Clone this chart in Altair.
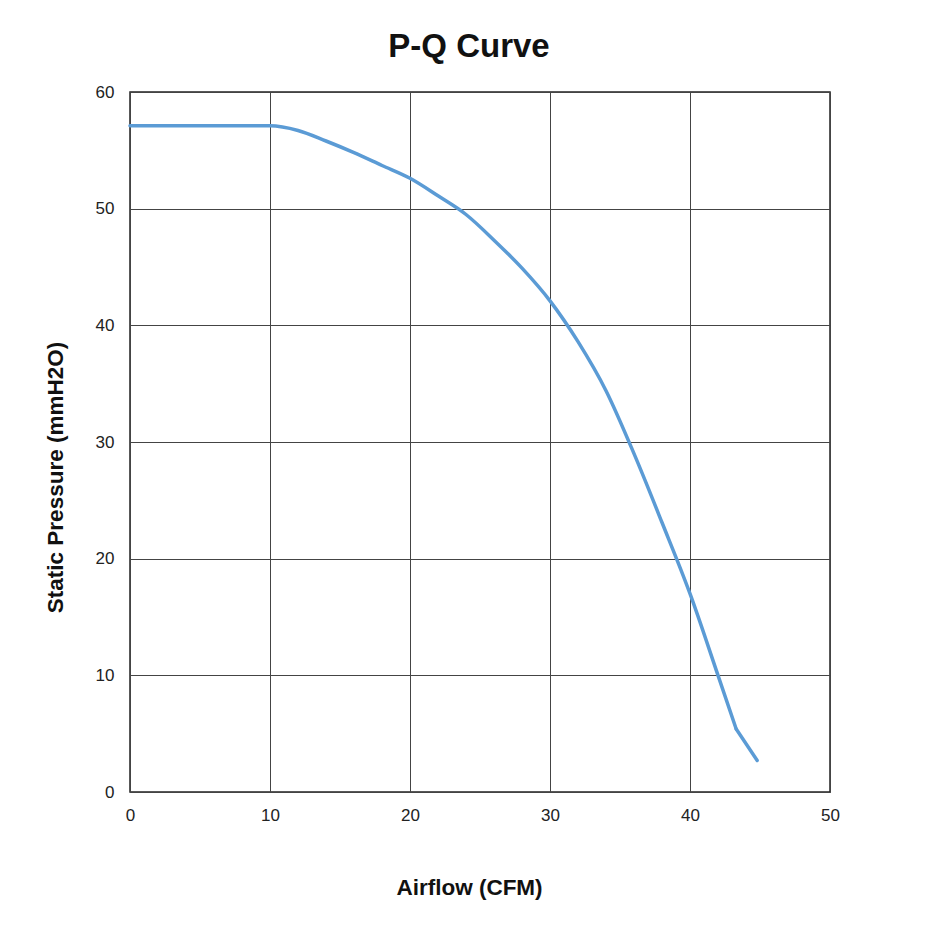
import pandas as pd
import altair as alt

# airflow (CFM) and static pressure (mmH2O)
airflow = [0, 10, 12, 14, 16, 18, 20, 22, 24, 26, 28, 30, 32, 34, 36, 38, 40, 42, 43.3]
pressure = [57.1, 57.1, 56.7, 55.8, 54.8, 53.7, 52.6, 51.1, 49.5, 47.3, 44.9, 42.1,
            38.6, 34.4, 29.0, 23.1, 17.0, 10.0, 5.4]
# straight tail after the kink
tail_airflow = [43.3, 44.8]
tail_pressure = [5.4, 2.7]

df = pd.DataFrame({"Airflow": airflow, "Pressure": pressure})
df_tail = pd.DataFrame({"Airflow": tail_airflow, "Pressure": tail_pressure})

font = "Liberation Sans"

x_enc = alt.X(
    "Airflow:Q",
    scale=alt.Scale(domain=[0, 50], nice=False),
    axis=alt.Axis(
        title="Airflow (CFM)",
        values=[0, 10, 20, 30, 40, 50],
        titleX=339,
        titleY=95,
        titleAlign="center",
        titleBaseline="middle",
        labelPadding=15,
        labelFlush=False,
    ),
)
y_enc = alt.Y(
    "Pressure:Q",
    scale=alt.Scale(domain=[0, 60], nice=False),
    axis=alt.Axis(
        title="Static Pressure (mmH2O)",
        values=[0, 10, 20, 30, 40, 50, 60],
        titleX=-75,
        titleY=385,
        titleAlign="center",
        titleBaseline="middle",
        labelPadding=16,
        labelFlush=False,
    ),
)

curve = alt.Chart(df).mark_line(
    color="#5B9BD5", strokeWidth=3.5, interpolate="monotone", strokeCap="round"
).encode(x=x_enc, y=y_enc)

tail = alt.Chart(df_tail).mark_line(
    color="#5B9BD5", strokeWidth=3.5, strokeCap="round"
).encode(x="Airflow:Q", y="Pressure:Q")

chart = (
    alt.layer(curve, tail)
    .properties(
        width=700,
        height=700,
        title=alt.TitleParams("P-Q Curve", fontSize=33, font=font, fontWeight="bold",
                              color="#111111", offset=19, dx=-11),
        autosize=alt.AutoSizeParams(type="none"),
        padding={"left": 122, "top": 84, "right": 100, "bottom": 130},
    )
    .configure_view(stroke="#222222", strokeWidth=1.5)
    .configure_axis(
        grid=True,
        gridColor="#444444",
        gridWidth=1,
        gridOpacity=1,
        domain=False,
        ticks=False,
        tickSize=0,
        labelFont=font,
        labelFontSize=17,
        labelColor="#222222",
        titleFont=font,
        titleFontSize=22.5,
        titleFontWeight="bold",
        titleColor="#111111",
    )
)

chart.save("out.html", embed_options={"renderer": "svg", "actions": False})
